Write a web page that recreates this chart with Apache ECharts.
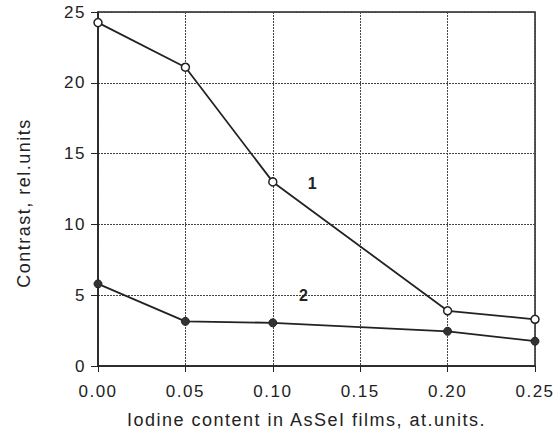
<!DOCTYPE html>
<html>
<head>
<meta charset="utf-8">
<script src="https://cdn.jsdelivr.net/npm/echarts@6/dist/echarts.min.js"></script>
<style>
    html, body { margin: 0; padding: 0; background: #fff; }
    #chart { width: 558px; height: 438px; }
    /* 原图的字距比较宽 */
    #chart text { letter-spacing: 1.5px; }
</style>
</head>
<body>
<div id="chart"></div>
<script>
// 碘含量（横轴）
const iodine = [0.00, 0.05, 0.10, 0.20, 0.25];
// 曲线1：空心圆
const contrast1 = [24.25, 21.1, 13.0, 3.9, 3.3];
// 曲线2：实心圆
const contrast2 = [5.8, 3.15, 3.05, 2.45, 1.75];
// 曲线编号标注位置
const label1Pos = [0.123, 12.9];
const label2Pos = [0.118, 4.95];

const toPairs = (xs, ys) => xs.map((x, i) => [x, ys[i]]);

const chart = echarts.init(document.getElementById('chart'), null, { renderer: 'svg' });

// 网格线：深灰点线
const gridLine = {
    show: true,
    lineStyle: { color: '#444', width: 1, type: [2, 1] }
};

// 曲线编号
function curveTag(text, pos) {
    return {
        symbol: 'circle',
        symbolSize: 0,
        label: { show: true, formatter: text, fontSize: 16, fontWeight: 'bold', color: '#222' },
        data: [{ coord: pos }]
    };
}

chart.setOption({
    animation: false,
    backgroundColor: '#fff',
    textStyle: { fontFamily: 'Liberation Sans, Arial, sans-serif' },
    grid: {
        left: 98, right: 23, top: 12, bottom: 72,
        show: true, borderColor: '#222', borderWidth: 1.5
    },
    xAxis: {
        type: 'value',
        min: 0,
        max: 0.25,
        interval: 0.05,
        name: 'Iodine content in AsSeI films, at.units.',
        nameLocation: 'middle',
        nameGap: 45,
        nameTextStyle: { fontSize: 18, color: '#222', padding: [0, 20, 0, 0] },
        axisLine: { show: true, lineStyle: { color: '#222', width: 1.5 } },
        axisTick: { show: true, length: 6, lineStyle: { color: '#222' } },
        axisLabel: {
            fontSize: 17, color: '#222', margin: 17,
            formatter: v => v.toFixed(2)
        },
        splitLine: gridLine
    },
    yAxis: {
        type: 'value',
        min: 0,
        max: 25,
        interval: 5,
        name: 'Contrast, rel.units',
        nameLocation: 'middle',
        nameGap: 65,
        nameTextStyle: { fontSize: 18, color: '#222', padding: [0, 28, 0, 0] },
        axisLine: { show: true, lineStyle: { color: '#222', width: 1.5 } },
        axisTick: { show: true, length: 7, lineStyle: { color: '#222' } },
        axisLabel: { fontSize: 17, color: '#222', margin: 12 },
        splitLine: gridLine
    },
    series: [
        {
            name: '1',
            type: 'line',
            data: toPairs(iodine, contrast1),
            symbol: 'circle',
            symbolSize: 8,
            itemStyle: { color: '#fff', borderColor: '#222', borderWidth: 1.5 },
            lineStyle: { color: '#222', width: 1.8 },
            markPoint: curveTag('1', label1Pos)
        },
        {
            name: '2',
            type: 'line',
            data: toPairs(iodine, contrast2),
            symbol: 'circle',
            symbolSize: 8,
            itemStyle: { color: '#333', borderColor: '#222', borderWidth: 1 },
            lineStyle: { color: '#222', width: 1.8 },
            markPoint: curveTag('2', label2Pos)
        }
    ]
});
</script>
</body>
</html>
